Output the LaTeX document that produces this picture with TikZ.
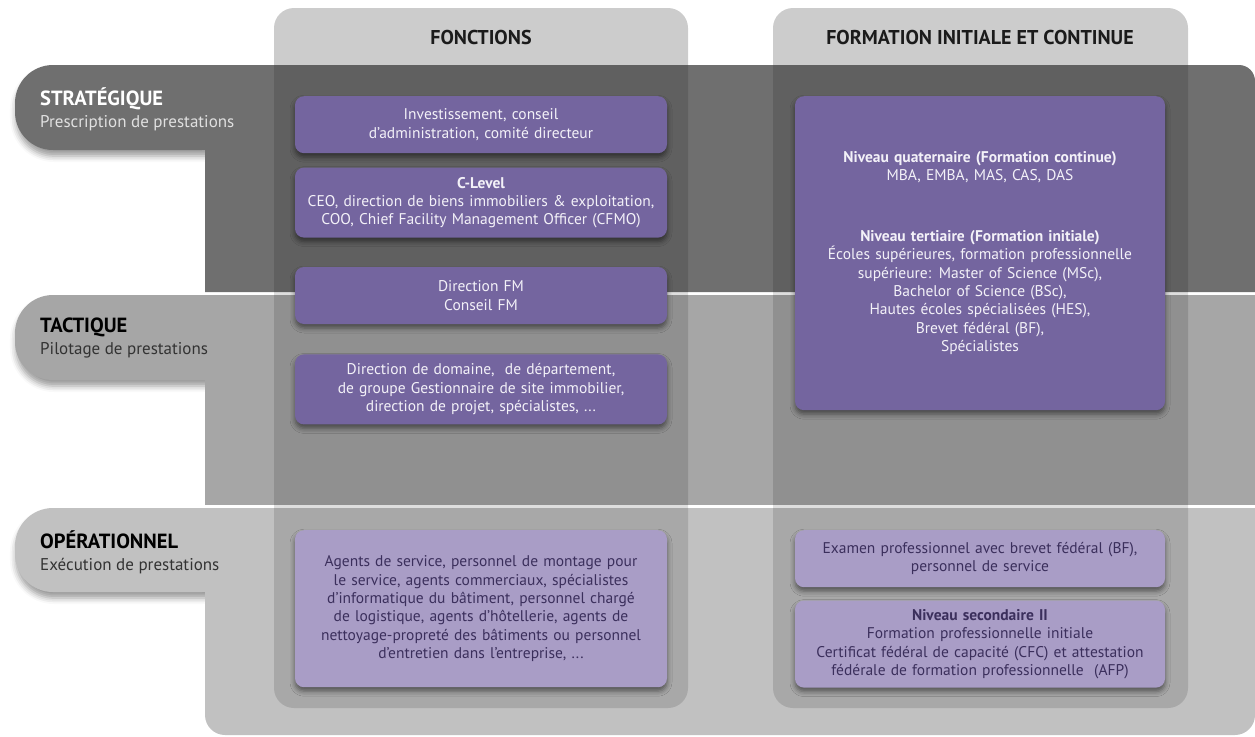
\documentclass[tikz,border=0pt]{standalone}
\usepackage{fontspec}
\setmainfont{PT Sans}
\usetikzlibrary{positioning}
\usetikzlibrary{shadows.blur}

\definecolor{stratgray}{HTML}{6F6F6F}
\definecolor{tactgray}{HTML}{A6A6A6}
\definecolor{opergray}{HTML}{C1C1C1}
\definecolor{colhead}{HTML}{CCCCCC}
\definecolor{darkpurple}{HTML}{74659F}
\definecolor{lightpurple}{HTML}{A99DC6}
\definecolor{boxtext}{HTML}{F3F1F8}
\definecolor{lighttext}{HTML}{3B2F5C}
\definecolor{headtext}{HTML}{1B1B1B}
\newcommand{\tabtitlefont}{\fontsize{20.5}{22}\selectfont\bfseries}

\begin{document}
\begin{tikzpicture}[
		x=1pt, y=-1pt,
		node distance=14pt,
		box/.style={fill=darkpurple, text=boxtext, rounded corners=9pt, inner sep=0pt,
			minimum width=372pt, text width=362pt, align=center,
			font=\fontsize{15.5}{18.4}\selectfont,
			blur shadow={shadow xshift=0pt, shadow yshift=-4pt, shadow blur radius=5pt, shadow opacity=50}},
		lightbox/.style={box, fill=lightpurple, text=lighttext},
		tab/.style={rounded corners=38pt, blur shadow={shadow xshift=1pt, shadow yshift=-6pt, shadow blur radius=6pt, shadow opacity=40}},
		tablabel/.style={anchor=north west, align=left, inner sep=0pt, font=\fontsize{17}{22}\selectfont},
		header/.style={text=headtext, font=\fontsize{20}{22}\selectfont\bfseries},
		coloverlay/.style={fill=black, fill opacity=0.13, rounded corners=20pt},
	]
	\useasboundingbox (0,0) rectangle (1255,736);

	% column heads
	\fill[colhead, rounded corners=20pt] (274,8) rectangle (688,100);
	\fill[colhead, rounded corners=20pt] (773,8) rectangle (1188,100);

	% strategic band
	\fill[stratgray, tab] (15,65) rectangle (240,150);
	\fill[stratgray] (205,292) -- (205,65) [rounded corners=16pt] -- (1255,65) [sharp corners] -- (1255,292) -- cycle;
	% tactical band
	\fill[tactgray, tab] (15,295) rectangle (240,380);
	\fill[tactgray] (205,295) rectangle (1255,505);
	% operational band
	\fill[opergray, tab] (15,508) rectangle (240,592);
	\fill[opergray] (1255,508) -- (205,508) [rounded corners=20pt] -- (205,735) -- (1255,735) -- (1255,600) [sharp corners] -- cycle;

	% column bodies
	\begin{scope}
		\clip (0,65) rectangle (1255,736);
		\fill[coloverlay] (274,30) rectangle (688,708);
		\fill[coloverlay] (773,30) rectangle (1188,708);
	\end{scope}

	\node[header] (fonctions) at (481,37) {FONCTIONS};
	\node[header] (formation) at (980,37) {FORMATION INITIALE ET CONTINUE};

	\node[tablabel, text=white] (strat) at (40,87) {{\tabtitlefont STRATÉGIQUE}\\\color{white!88!black}Prescription de prestations};
	\node[tablabel, text=black] (tact) at (40,318) {{\tabtitlefont TACTIQUE}\\\color{black!80}Pilotage de prestations};
	\node[tablabel, text=black] (oper) at (40,530) {{\tabtitlefont OPÉRATIONNEL}\\\color{black!80}Exécution de prestations};

	% fonctions
	\node[box, minimum height=57pt, anchor=north] (invest) at (481,96) {Investissement, conseil\\d’administration, comité directeur};
	\node[box, minimum height=70pt, below=of invest] (clevel) {\textbf{C-Level}\\CEO, direction de biens immobiliers \& exploitation,\\COO, Chief Facility Management Officer (CFMO)};
	\node[box, minimum height=57pt, below=29pt of clevel] (dirfm) {Direction FM\\Conseil FM};
	\node[box, minimum height=70pt, below=30pt of dirfm] (domaine) {Direction de domaine,\ \ de département,\\de groupe Gestionnaire de site immobilier,\\direction de projet, spécialistes, ...};
	\node[lightbox, minimum height=157pt, anchor=north] (agents) at (481,530) {Agents de service, personnel de montage pour\\le service, agents commerciaux, spécialistes\\d’informatique du bâtiment, personnel chargé\\de logistique, agents d’hôtellerie, agents de\\nettoyage-propreté des bâtiments ou personnel\\d’entretien dans l’entreprise, ...};

	% formation
	\node[box, minimum width=370pt, minimum height=314pt, anchor=north] (niveaux) at (980,96) {\textbf{Niveau quaternaire (Formation continue)}\\MBA, EMBA, MAS, CAS, DAS\\[42pt]\textbf{Niveau tertiaire (Formation initiale)}\\Écoles supérieures, formation professionnelle\\supérieure: Master of Science (MSc),\\Bachelor of Science (BSc),\\Hautes écoles spécialisées (HES),\\Brevet fédéral (BF),\\Spécialistes};
	\node[lightbox, minimum width=370pt, minimum height=57pt, anchor=north] (examen) at (980,530) {Examen professionnel avec brevet fédéral (BF),\\personnel de service};
	\node[lightbox, minimum width=370pt, minimum height=87pt, below=13pt of examen] (secondaire) {\textbf{Niveau secondaire II}\\Formation professionnelle initiale\\Certificat fédéral de capacité (CFC) et attestation\\fédérale de formation professionnelle\ \ (AFP)};
\end{tikzpicture}
\end{document}
